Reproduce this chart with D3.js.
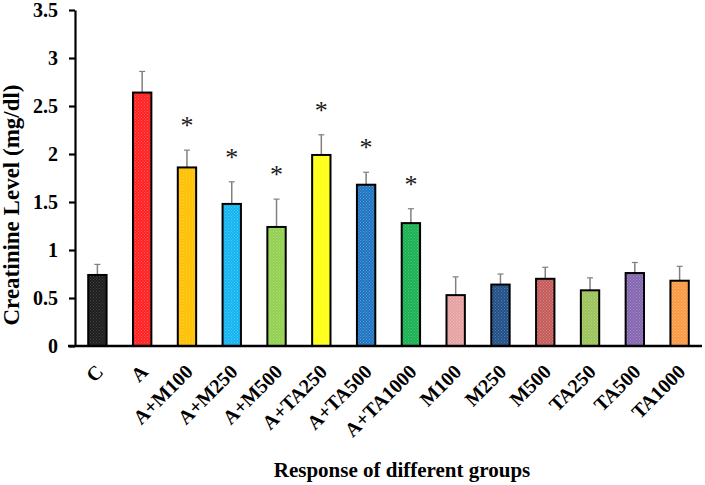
<!DOCTYPE html>
<html>
<head>
<meta charset="utf-8">
<script src="https://cdn.jsdelivr.net/npm/d3@7"></script>
<style>
  html, body { margin: 0; padding: 0; background: #fff; }
  svg { display: block; }
  text { font-family: "Liberation Serif", "Times New Roman", serif; }
</style>
</head>
<body>
<svg id="chart" width="705" height="485"></svg>
<script>
const categories = ["C", "A", "A+M100", "A+M250", "A+M500", "A+TA250", "A+TA500", "A+TA1000",
                    "M100", "M250", "M500", "TA250", "TA500", "TA1000"];
const values = [0.74, 2.64, 1.86, 1.48, 1.24, 1.99, 1.68, 1.28, 0.53, 0.64, 0.70, 0.58, 0.76, 0.68];
const errors = [0.11, 0.22, 0.18, 0.23, 0.29, 0.21, 0.13, 0.15, 0.19, 0.11, 0.12, 0.13, 0.11, 0.15];
const significant = [false, false, true, true, true, true, true, true, false, false, false, false, false, false];
const colors = ["#1e1e1e", "#ff2020", "#ffc000", "#12b4f2", "#92d050", "#ffff10", "#1f74c2", "#18b050",
                "#e6a1a1", "#1f4f86", "#c55a5a", "#9bc35a", "#8466b0", "#f99a44"];
const yTicks = [0, 0.5, 1, 1.5, 2, 2.5, 3, 3.5];
const yTickLabels = ["0", "0.5", "1", "1.5", "2", "2.5", "3", "3.5"];
const yTitle = "Creatinine Level (mg/dl)";
const xTitle = "Response of different groups";

const svg = d3.select("#chart");
const plotLeft = 75, plotRight = 702, plotTop = 10, plotBottom = 346;

const x = d3.scaleBand().domain(categories).range([plotLeft, plotRight]).paddingInner(0.59).paddingOuter(0.295);
const y = d3.scaleLinear().domain([0, 3.5]).range([plotBottom, plotTop]);

// dotted patterns
const defs = svg.append("defs");
colors.forEach((c, i) => {
  const p = defs.append("pattern").attr("id", "pat" + i)
    .attr("patternUnits", "userSpaceOnUse").attr("width", 3).attr("height", 3);
  p.append("rect").attr("width", 3).attr("height", 3).attr("fill", c);
  const dot = i === 0 ? "#555" : "#fff";
  p.append("rect").attr("x", 0).attr("y", 0).attr("width", 1).attr("height", 1)
    .attr("fill", dot).attr("opacity", i === 0 ? 0.7 : 0.28);
  p.append("rect").attr("x", 1.5).attr("y", 1.5).attr("width", 1).attr("height", 1)
    .attr("fill", dot).attr("opacity", i === 0 ? 0.7 : 0.28);
});

// error bars
const eg = svg.append("g");
categories.forEach((c, i) => {
  const cx = x(c) + x.bandwidth() / 2;
  eg.append("line").attr("x1", cx).attr("x2", cx)
    .attr("y1", y(values[i])).attr("y2", y(values[i] + errors[i]))
    .attr("stroke", "#808080").attr("stroke-width", 1.5);
  eg.append("line").attr("x1", cx - 3).attr("x2", cx + 3)
    .attr("y1", y(values[i] + errors[i])).attr("y2", y(values[i] + errors[i]))
    .attr("stroke", "#808080").attr("stroke-width", 1.2);
});

// bars
svg.append("g").selectAll("rect").data(categories).join("rect")
  .attr("x", d => x(d))
  .attr("y", (d, i) => y(values[i]))
  .attr("width", x.bandwidth())
  .attr("height", (d, i) => y(0) - y(values[i]))
  .attr("fill", (d, i) => `url(#pat${i})`)
  .attr("stroke", "#000").attr("stroke-width", 2);

// asterisks
svg.append("g").selectAll("text").data(categories.filter((d, i) => significant[i])).join("text")
  .attr("x", d => x(d) + x.bandwidth() / 2)
  .attr("y", d => { const i = categories.indexOf(d); return y(values[i] + errors[i]) - 16; })
  .attr("text-anchor", "middle")
  .attr("font-size", 26)
  .attr("fill", "#1a1a1a")
  .text("*");

// y axis
const yAxis = d3.axisLeft(y).tickValues(yTicks).tickFormat((d, i) => yTickLabels[i])
  .tickSizeInner(6).tickSizeOuter(0).tickPadding(11);
const yg = svg.append("g").attr("transform", `translate(${plotLeft},0)`).call(yAxis);
yg.select(".domain").attr("stroke", "#000").attr("stroke-width", 2.2);
yg.selectAll(".tick line").attr("stroke", "#000").attr("stroke-width", 2.2);
yg.selectAll(".tick text").attr("font-family", "Liberation Serif").attr("font-weight", "bold")
  .attr("font-size", 20).attr("fill", "#000");

// x axis
const xAxis = d3.axisBottom(x).tickSize(0).tickSizeOuter(0).tickPadding(0);
const xg = svg.append("g").attr("transform", `translate(0,${plotBottom})`).call(xAxis);
xg.select(".domain").remove();
xg.append("line").attr("x1", 68).attr("x2", plotRight).attr("y1", 0).attr("y2", 0)
  .attr("stroke", "#000").attr("stroke-width", 2.5);
xg.selectAll(".tick text")
  .attr("font-family", "Liberation Serif").attr("font-weight", "bold").attr("font-size", 20)
  .attr("fill", "#000").attr("text-anchor", "end")
  .attr("dy", null).attr("y", null)
  .attr("transform", "translate(7,27) rotate(-45)");

// titles
svg.append("text").attr("transform", "translate(19,205) rotate(-90)")
  .attr("text-anchor", "middle").attr("font-weight", "bold").attr("font-size", 23)
  .text(yTitle);
svg.append("text").attr("x", 402).attr("y", 477)
  .attr("text-anchor", "middle").attr("font-weight", "bold").attr("font-size", 21)
  .text(xTitle);
</script>
</body>
</html>
